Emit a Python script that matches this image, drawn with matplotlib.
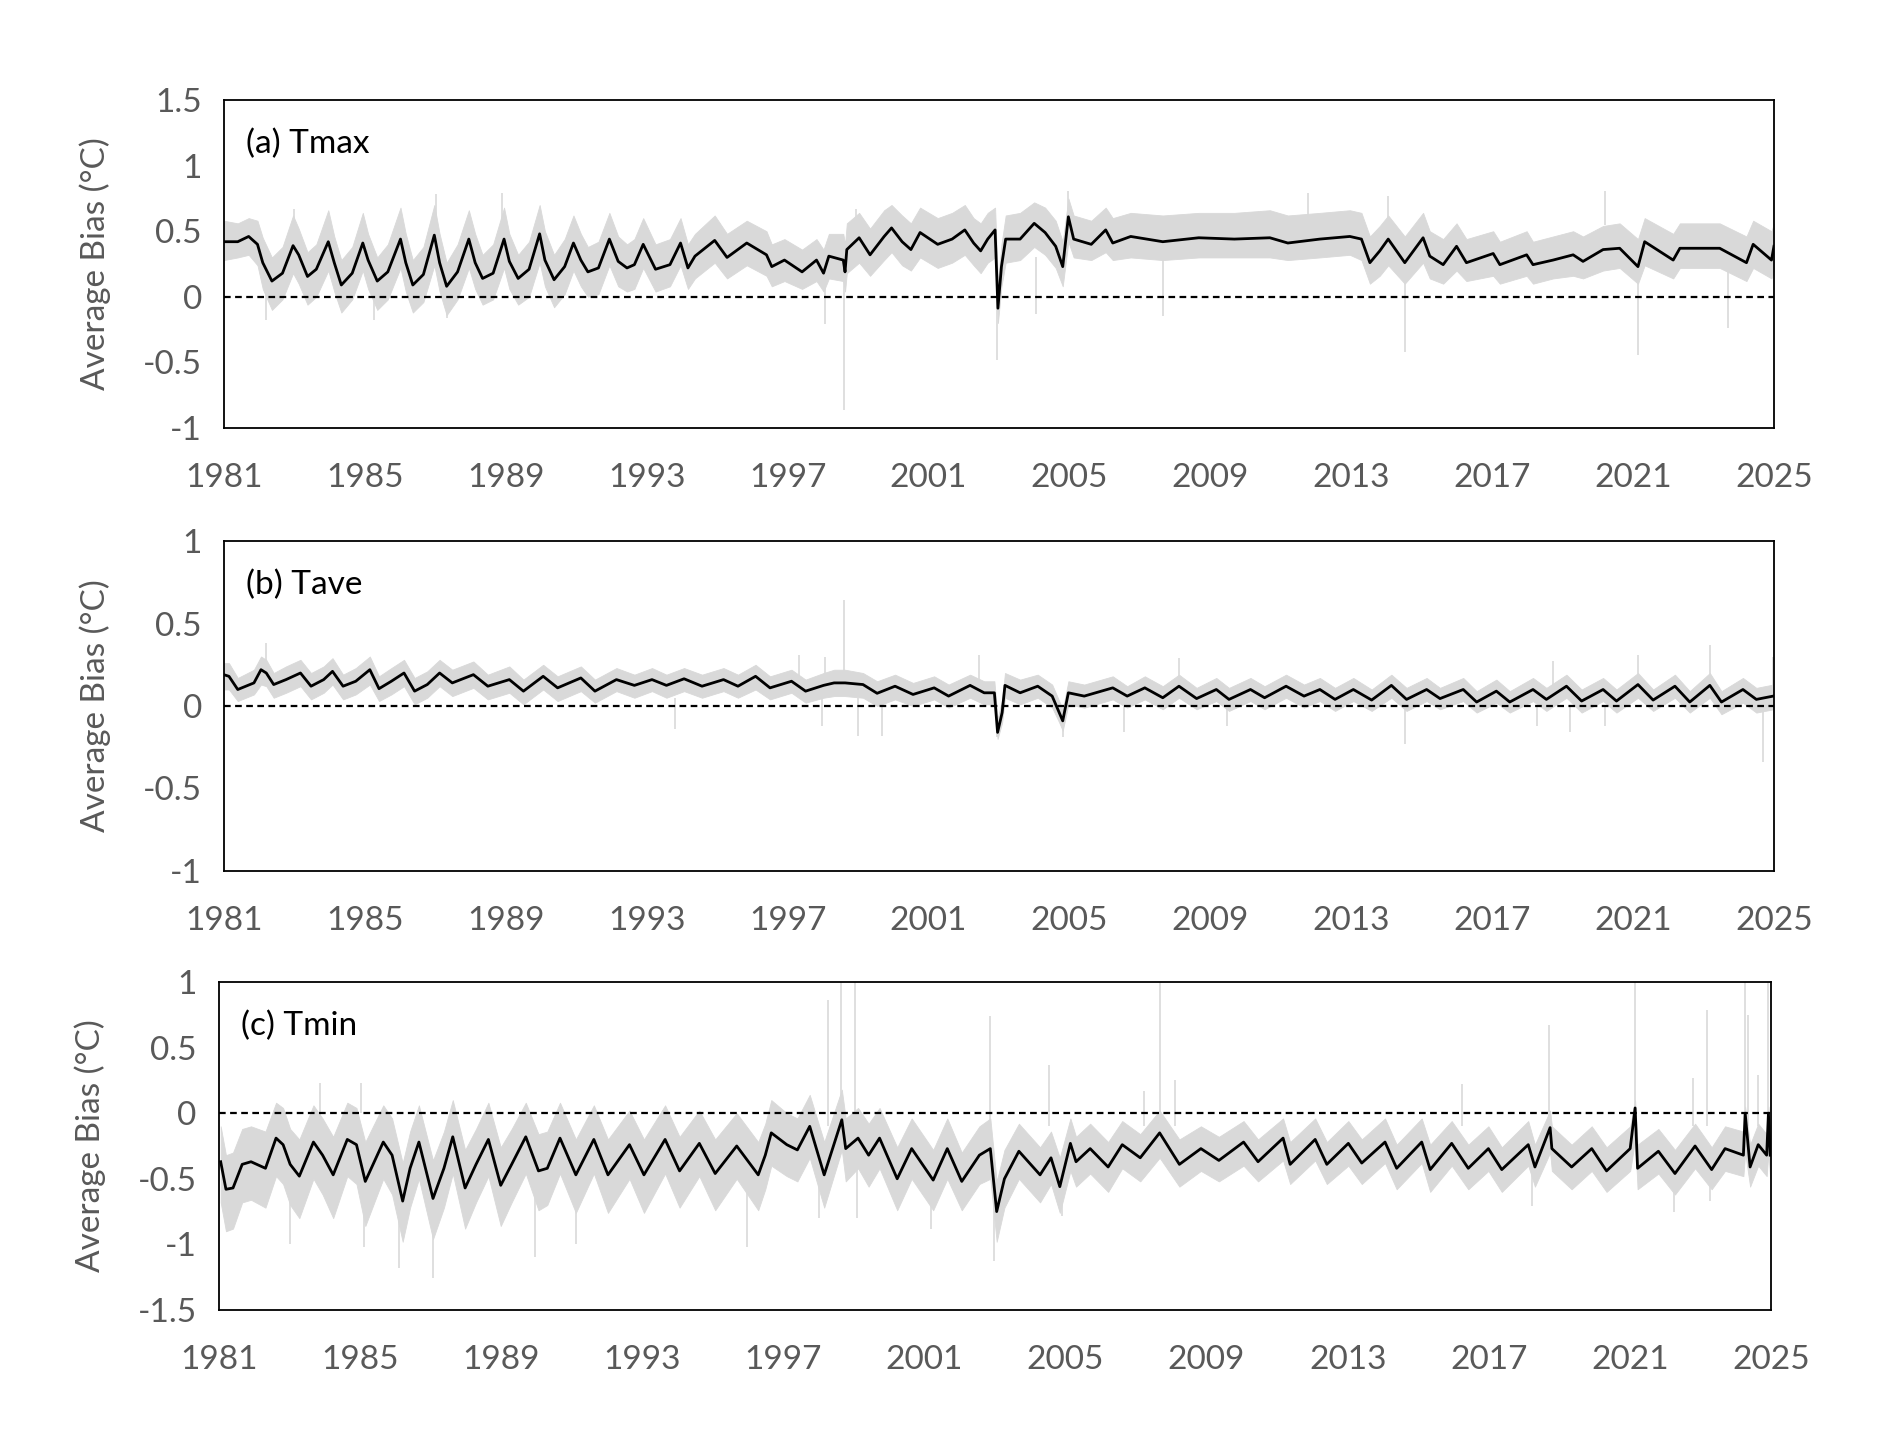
import matplotlib
matplotlib.use("Agg")
import matplotlib.pyplot as plt
import numpy as np

plt.rcParams['font.family'] = ['Lato', 'DejaVu Sans']

# ---- (a) Tmax : smoothed bias (black) and spread of daily values (grey) ----
a_year = [1981.00, 1981.39, 1981.70, 1981.95, 1982.10, 1982.36, 1982.66, 1982.96, 1983.12, 1983.37,
          1983.62, 1983.96, 1984.13, 1984.33, 1984.64, 1984.94, 1985.09, 1985.35, 1985.65, 1986.01,
          1986.16, 1986.36, 1986.66, 1986.97, 1987.12, 1987.32, 1987.63, 1987.95, 1988.13, 1988.34,
          1988.64, 1988.95, 1989.10, 1989.35, 1989.66, 1989.96, 1990.11, 1990.37, 1990.67, 1990.92,
          1991.13, 1991.33, 1991.63, 1991.94, 1992.19, 1992.44, 1992.65, 1992.90, 1993.25, 1993.66,
          1993.96, 1994.17, 1994.37, 1994.93, 1995.28, 1995.84, 1996.40, 1996.55, 1996.91, 1997.41,
          1997.82, 1998.02, 1998.17, 1998.58, 1998.63, 1998.68, 1999.03, 1999.34, 1999.74, 1999.95,
          2000.25, 2000.50, 2000.76, 2001.26, 2001.67, 2002.03, 2002.28, 2002.48, 2002.68, 2002.89,
          2002.97, 2003.07, 2003.19, 2003.60, 2004.00, 2004.31, 2004.61, 2004.81, 2004.97, 2005.12,
          2005.62, 2006.03, 2006.23, 2006.74, 2007.65, 2008.67, 2009.68, 2010.69, 2011.20, 2012.11,
          2012.96, 2013.29, 2013.53, 2013.81, 2014.05, 2014.52, 2015.04, 2015.23, 2015.61, 2015.99,
          2016.27, 2017.03, 2017.22, 2017.98, 2018.16, 2018.73, 2019.30, 2019.58, 2020.15, 2020.62,
          2021.14, 2021.33, 2022.14, 2022.33, 2023.46, 2024.22, 2024.41, 2024.93, 2025.00]
a_mean = [0.42, 0.42, 0.46, 0.40, 0.26, 0.12, 0.18, 0.39, 0.32, 0.155,
          0.21, 0.42, 0.26, 0.09, 0.18, 0.41, 0.28, 0.12, 0.19, 0.44,
          0.26, 0.09, 0.17, 0.47, 0.26, 0.08, 0.19, 0.44, 0.26, 0.14,
          0.18, 0.44, 0.27, 0.14, 0.21, 0.48, 0.28, 0.13, 0.23, 0.41,
          0.28, 0.19, 0.22, 0.44, 0.27, 0.22, 0.245, 0.40, 0.21, 0.245,
          0.41, 0.22, 0.31, 0.43, 0.30, 0.41, 0.32, 0.23, 0.28, 0.19,
          0.28, 0.18, 0.31, 0.28, 0.19, 0.36, 0.45, 0.32, 0.46, 0.525,
          0.42, 0.36, 0.49, 0.40, 0.44, 0.51, 0.41, 0.35, 0.44, 0.51,
          -0.087, 0.23, 0.44, 0.44, 0.56, 0.49, 0.385, 0.23, 0.61, 0.44,
          0.40, 0.51, 0.41, 0.46, 0.42, 0.45, 0.44, 0.45, 0.41, 0.44,
          0.46, 0.44, 0.26, 0.35, 0.44, 0.26, 0.45, 0.31, 0.245, 0.385,
          0.26, 0.33, 0.245, 0.32, 0.245, 0.28, 0.32, 0.27, 0.36, 0.37,
          0.23, 0.42, 0.28, 0.37, 0.37, 0.26, 0.40, 0.28, 0.385]
a_lo = [0.28, 0.30, 0.32, 0.24, 0.06, -0.10, -0.02, 0.18, 0.10, -0.06,
        0.00, 0.20, 0.04, -0.12, -0.02, 0.20, 0.06, -0.10, -0.02, 0.22,
        0.04, -0.12, -0.04, 0.24, 0.04, -0.14, -0.02, 0.22, 0.06, -0.06,
        -0.02, 0.22, 0.06, -0.06, 0.00, 0.26, 0.08, -0.08, 0.02, 0.20,
        0.08, 0.00, 0.02, 0.24, 0.08, 0.04, 0.06, 0.22, 0.04, 0.08,
        0.24, 0.06, 0.14, 0.26, 0.14, 0.24, 0.16, 0.08, 0.12, 0.06,
        0.12, 0.04, 0.14, 0.12, 0.04, 0.18, 0.26, 0.16, 0.28, 0.34,
        0.24, 0.20, 0.30, 0.22, 0.26, 0.32, 0.24, 0.18, 0.26, 0.30,
        -0.20, 0.08, 0.26, 0.28, 0.38, 0.32, 0.22, 0.08, 0.42, 0.30,
        0.28, 0.34, 0.28, 0.30, 0.28, 0.30, 0.30, 0.30, 0.28, 0.30,
        0.32, 0.28, 0.10, 0.16, 0.24, 0.10, 0.26, 0.14, 0.10, 0.20,
        0.12, 0.16, 0.10, 0.16, 0.10, 0.14, 0.16, 0.14, 0.20, 0.22,
        0.10, 0.24, 0.14, 0.22, 0.22, 0.12, 0.22, 0.14, 0.20]
a_hi = [0.58, 0.56, 0.60, 0.58, 0.45, 0.30, 0.38, 0.62, 0.52, 0.34,
        0.40, 0.66, 0.46, 0.28, 0.38, 0.64, 0.48, 0.30, 0.40, 0.68,
        0.48, 0.28, 0.38, 0.70, 0.48, 0.26, 0.40, 0.66, 0.48, 0.32,
        0.40, 0.68, 0.48, 0.32, 0.42, 0.70, 0.50, 0.32, 0.44, 0.62,
        0.48, 0.38, 0.42, 0.64, 0.46, 0.40, 0.44, 0.60, 0.40, 0.44,
        0.60, 0.40, 0.48, 0.62, 0.48, 0.58, 0.50, 0.40, 0.44, 0.36,
        0.44, 0.36, 0.48, 0.48, 0.40, 0.56, 0.64, 0.52, 0.66, 0.70,
        0.62, 0.56, 0.68, 0.60, 0.64, 0.70, 0.60, 0.56, 0.64, 0.68,
        0.10, 0.40, 0.62, 0.64, 0.72, 0.68, 0.58, 0.42, 0.75, 0.62,
        0.58, 0.68, 0.60, 0.64, 0.62, 0.64, 0.64, 0.66, 0.62, 0.64,
        0.66, 0.64, 0.46, 0.54, 0.62, 0.46, 0.64, 0.50, 0.44, 0.56,
        0.44, 0.50, 0.42, 0.50, 0.42, 0.46, 0.50, 0.46, 0.54, 0.56,
        0.44, 0.60, 0.48, 0.56, 0.56, 0.46, 0.58, 0.50, 0.56]
a_spike_x = [1982.20, 1985.25, 1987.32, 1983.00, 1987.02, 1988.89, 1998.07, 1998.61, 1998.93,
             2002.94, 2004.05, 2004.97, 2007.65, 2011.76, 2014.05, 2014.52, 2020.20, 2021.14,
             2023.70, 2024.99]
a_spike_lo = [-0.18, -0.18, -0.16, 0.50, 0.55, 0.55, -0.21, -0.86, 0.55,
              -0.48, -0.13, 0.60, -0.15, 0.60, 0.55, -0.42, 0.55, -0.44,
              -0.24, 0.45]
a_spike_hi = [0.05, 0.05, 0.05, 0.67, 0.78, 0.79, 0.10, 0.20, 0.67,
              0.05, 0.30, 0.81, 0.30, 0.79, 0.77, 0.15, 0.81, 0.15,
              0.20, 0.89]

# ---- (b) Tave ----
b_year = [1980.99, 1981.14, 1981.39, 1981.85, 1982.05, 1982.20, 1982.41, 1982.76, 1983.17, 1983.47,
          1983.83, 1984.08, 1984.38, 1984.74, 1985.14, 1985.40, 1985.75, 1986.11, 1986.41, 1986.77,
          1987.12, 1987.48, 1988.08, 1988.49, 1989.10, 1989.50, 1990.06, 1990.47, 1991.13, 1991.53,
          1992.14, 1992.65, 1993.15, 1993.56, 1994.06, 1994.57, 1995.18, 1995.59, 1996.09, 1996.50,
          1997.11, 1997.51, 1998.02, 1998.32, 1998.63, 1999.14, 1999.54, 2000.05, 2000.56, 2001.16,
          2001.57, 2002.18, 2002.58, 2002.87, 2002.96, 2003.09, 2003.17, 2003.60, 2004.10, 2004.51,
          2004.71, 2004.81, 2004.97, 2005.42, 2006.23, 2006.64, 2007.14, 2007.65, 2008.11, 2008.61,
          2009.17, 2009.53, 2010.14, 2010.54, 2011.15, 2011.66, 2012.11, 2012.54, 2013.06, 2013.58,
          2014.14, 2014.57, 2015.14, 2015.52, 2016.18, 2016.56, 2017.12, 2017.50, 2018.16, 2018.54,
          2019.11, 2019.54, 2020.15, 2020.53, 2021.14, 2021.57, 2022.19, 2022.61, 2023.18, 2023.51,
          2024.12, 2024.50, 2024.98]
b_mean = [0.19, 0.18, 0.10, 0.14, 0.22, 0.20, 0.13, 0.16, 0.20, 0.12,
          0.16, 0.21, 0.12, 0.15, 0.22, 0.105, 0.15, 0.20, 0.09, 0.13,
          0.20, 0.14, 0.19, 0.12, 0.16, 0.09, 0.18, 0.11, 0.17, 0.09,
          0.16, 0.125, 0.16, 0.125, 0.165, 0.12, 0.16, 0.12, 0.18, 0.11,
          0.15, 0.09, 0.125, 0.14, 0.14, 0.13, 0.077, 0.12, 0.07, 0.11,
          0.06, 0.125, 0.08, 0.08, -0.16, -0.04, 0.125, 0.08, 0.12, 0.06,
          -0.04, -0.09, 0.08, 0.06, 0.11, 0.06, 0.11, 0.05, 0.12, 0.045,
          0.10, 0.04, 0.10, 0.05, 0.12, 0.06, 0.10, 0.04, 0.10, 0.036,
          0.125, 0.04, 0.10, 0.045, 0.10, 0.024, 0.09, 0.024, 0.10, 0.04,
          0.12, 0.03, 0.10, 0.03, 0.13, 0.036, 0.12, 0.024, 0.125, 0.024,
          0.10, 0.04, 0.06]
b_lo = [0.10, 0.10, 0.03, 0.07, 0.13, 0.12, 0.05, 0.08, 0.12, 0.04,
        0.08, 0.13, 0.04, 0.07, 0.13, 0.03, 0.07, 0.12, 0.01, 0.05,
        0.12, 0.06, 0.11, 0.04, 0.08, 0.01, 0.10, 0.03, 0.09, 0.02,
        0.09, 0.05, 0.09, 0.05, 0.09, 0.05, 0.09, 0.05, 0.10, 0.04,
        0.08, 0.02, 0.05, 0.06, 0.06, 0.05, 0.00, 0.04, 0.00, 0.04,
        -0.01, 0.05, 0.01, 0.01, -0.20, -0.10, 0.05, 0.01, 0.05, -0.01,
        -0.10, -0.15, 0.01, -0.01, 0.04, -0.01, 0.04, -0.02, 0.05, -0.02,
        0.03, -0.03, 0.03, -0.02, 0.05, -0.01, 0.03, -0.03, 0.03, -0.03,
        0.05, -0.03, 0.03, -0.02, 0.03, -0.04, 0.02, -0.04, 0.03, -0.03,
        0.05, -0.04, 0.03, -0.04, 0.05, -0.03, 0.05, -0.04, 0.05, -0.05,
        0.02, -0.04, -0.02]
b_hi = [0.26, 0.26, 0.17, 0.22, 0.30, 0.28, 0.20, 0.24, 0.28, 0.20,
        0.24, 0.29, 0.19, 0.23, 0.30, 0.18, 0.23, 0.28, 0.17, 0.21,
        0.28, 0.22, 0.27, 0.19, 0.24, 0.16, 0.25, 0.18, 0.24, 0.16,
        0.23, 0.19, 0.23, 0.19, 0.23, 0.19, 0.23, 0.19, 0.25, 0.18,
        0.22, 0.16, 0.20, 0.22, 0.22, 0.20, 0.15, 0.19, 0.14, 0.18,
        0.13, 0.19, 0.15, 0.15, -0.08, 0.04, 0.20, 0.16, 0.19, 0.13,
        0.03, -0.02, 0.15, 0.13, 0.18, 0.12, 0.18, 0.12, 0.19, 0.11,
        0.17, 0.11, 0.17, 0.12, 0.19, 0.13, 0.17, 0.11, 0.17, 0.10,
        0.19, 0.11, 0.17, 0.11, 0.17, 0.09, 0.16, 0.09, 0.17, 0.11,
        0.19, 0.10, 0.17, 0.10, 0.20, 0.10, 0.19, 0.09, 0.20, 0.09,
        0.17, 0.11, 0.13]
b_spike_x = [1982.20, 1993.81, 1997.31, 1997.97, 1998.07, 1998.61, 1999.01, 1999.69, 2002.43,
             2002.94, 2004.81, 2006.54, 2008.11, 2009.48, 2014.52, 2018.26, 2018.73, 2019.21,
             2020.20, 2021.14, 2023.18, 2024.69, 2024.98]
b_spike_lo = [0.20, -0.14, 0.15, -0.12, 0.15, 0.15, -0.18, -0.18, 0.15,
              -0.19, -0.19, -0.16, 0.15, -0.12, -0.23, -0.12, 0.12, -0.16,
              -0.12, 0.15, 0.15, -0.34, 0.10]
b_spike_hi = [0.38, 0.05, 0.31, 0.05, 0.30, 0.64, 0.05, 0.05, 0.31,
              -0.05, -0.05, 0.00, 0.29, 0.00, 0.00, 0.00, 0.27, 0.00,
              0.00, 0.31, 0.37, 0.00, 0.30]

# ---- (c) Tmin ----
c_year = [1981.05, 1981.20, 1981.40, 1981.66, 1981.91, 1982.32, 1982.62, 1982.82, 1983.02, 1983.28,
          1983.68, 1983.94, 1984.24, 1984.64, 1984.90, 1985.15, 1985.66, 1985.91, 1986.21, 1986.42,
          1986.67, 1987.07, 1987.38, 1987.63, 1987.98, 1988.29, 1988.64, 1988.99, 1989.30, 1989.70,
          1990.06, 1990.31, 1990.67, 1991.12, 1991.63, 1992.03, 1992.64, 1993.05, 1993.65, 1994.06,
          1994.62, 1995.07, 1995.68, 1996.29, 1996.49, 1996.66, 1997.10, 1997.40, 1997.75, 1998.16,
          1998.66, 1998.77, 1999.12, 1999.42, 1999.73, 2000.23, 2000.64, 2001.25, 2001.65, 2002.06,
          2002.56, 2002.87, 2003.05, 2003.27, 2003.68, 2004.28, 2004.59, 2004.84, 2005.14, 2005.30,
          2005.70, 2006.21, 2006.61, 2007.12, 2007.67, 2008.23, 2008.84, 2009.35, 2010.05, 2010.46,
          2011.17, 2011.37, 2012.08, 2012.41, 2013.02, 2013.40, 2014.06, 2014.39, 2015.10, 2015.34,
          2015.95, 2016.42, 2016.99, 2017.37, 2018.12, 2018.31, 2018.74, 2018.79, 2019.35, 2019.92,
          2020.34, 2021.01, 2021.15, 2021.22, 2021.81, 2022.28, 2022.85, 2023.32, 2023.70, 2024.22,
          2024.27, 2024.41, 2024.64, 2024.88, 2024.93, 2024.98]
c_mean = [-0.37, -0.58, -0.57, -0.39, -0.37, -0.42, -0.19, -0.24, -0.39, -0.48,
          -0.22, -0.32, -0.47, -0.20, -0.24, -0.52, -0.22, -0.32, -0.67, -0.42,
          -0.22, -0.65, -0.42, -0.18, -0.57, -0.39, -0.20, -0.55, -0.39, -0.18,
          -0.44, -0.42, -0.19, -0.47, -0.20, -0.47, -0.24, -0.47, -0.20, -0.44,
          -0.23, -0.46, -0.25, -0.47, -0.32, -0.15, -0.24, -0.28, -0.10, -0.47,
          -0.05, -0.27, -0.19, -0.32, -0.19, -0.50, -0.27, -0.51, -0.27, -0.52,
          -0.32, -0.27, -0.75, -0.50, -0.29, -0.47, -0.34, -0.56, -0.23, -0.37,
          -0.27, -0.41, -0.24, -0.34, -0.15, -0.39, -0.27, -0.36, -0.22, -0.37,
          -0.19, -0.39, -0.20, -0.39, -0.23, -0.38, -0.22, -0.42, -0.22, -0.43,
          -0.23, -0.42, -0.27, -0.43, -0.24, -0.41, -0.11, -0.27, -0.41, -0.27,
          -0.44, -0.27, 0.04, -0.42, -0.29, -0.46, -0.25, -0.43, -0.27, -0.32,
          0.00, -0.41, -0.24, -0.32, 0.00, -0.32]
c_lo = [-0.68, -0.90, -0.88, -0.68, -0.66, -0.72, -0.48, -0.54, -0.70, -0.80,
        -0.50, -0.62, -0.80, -0.48, -0.54, -0.86, -0.50, -0.62, -0.98, -0.72,
        -0.50, -0.96, -0.72, -0.46, -0.88, -0.68, -0.48, -0.86, -0.68, -0.46,
        -0.74, -0.70, -0.46, -0.76, -0.46, -0.76, -0.50, -0.76, -0.46, -0.72,
        -0.48, -0.74, -0.50, -0.74, -0.58, -0.40, -0.48, -0.52, -0.34, -0.72,
        -0.28, -0.52, -0.42, -0.56, -0.42, -0.74, -0.50, -0.74, -0.50, -0.74,
        -0.54, -0.50, -0.98, -0.72, -0.50, -0.68, -0.54, -0.76, -0.44, -0.56,
        -0.46, -0.60, -0.42, -0.52, -0.34, -0.56, -0.44, -0.52, -0.40, -0.52,
        -0.36, -0.54, -0.36, -0.54, -0.40, -0.54, -0.38, -0.58, -0.38, -0.60,
        -0.40, -0.58, -0.44, -0.60, -0.40, -0.56, -0.30, -0.44, -0.58, -0.44,
        -0.60, -0.44, -0.20, -0.58, -0.46, -0.62, -0.42, -0.58, -0.44, -0.48,
        -0.30, -0.56, -0.40, -0.48, -0.30, -0.50]
c_hi = [-0.10, -0.32, -0.30, -0.12, -0.10, -0.14, 0.08, 0.04, -0.12, -0.20,
        0.06, -0.04, -0.18, 0.08, 0.04, -0.22, 0.06, -0.04, -0.38, -0.14,
        0.06, -0.36, -0.14, 0.10, -0.28, -0.12, 0.08, -0.26, -0.12, 0.08,
        -0.16, -0.14, 0.08, -0.20, 0.06, -0.20, 0.02, -0.20, 0.06, -0.18,
        0.02, -0.20, 0.00, -0.22, -0.08, 0.10, 0.00, -0.04, 0.14, -0.22,
        0.18, -0.04, 0.04, -0.08, 0.04, -0.26, -0.04, -0.28, -0.04, -0.30,
        -0.10, -0.04, -0.52, -0.28, -0.08, -0.26, -0.14, -0.34, -0.04, -0.18,
        -0.08, -0.22, -0.06, -0.16, 0.02, -0.20, -0.10, -0.18, -0.06, -0.20,
        -0.04, -0.22, -0.04, -0.22, -0.06, -0.20, -0.04, -0.24, -0.04, -0.24,
        -0.06, -0.24, -0.10, -0.26, -0.06, -0.24, 0.02, -0.10, -0.24, -0.10,
        -0.26, -0.10, 0.10, -0.24, -0.12, -0.28, -0.08, -0.26, -0.10, -0.14,
        0.05, -0.24, -0.08, -0.16, 0.05, -0.14]
c_spike_x = [1983.02, 1983.88, 1985.03, 1985.10, 1986.11, 1987.07, 1989.96, 1991.12, 1995.98,
             1998.00, 1998.26, 1998.63, 1999.04, 1999.10, 2001.20, 2002.85, 2002.97, 2004.52,
             2004.89, 2007.22, 2007.67, 2008.11, 2016.23, 2018.22, 2018.72, 2021.15, 2022.26,
             2022.80, 2023.18, 2023.27, 2024.27, 2024.34, 2024.63, 2024.93]
c_spike_lo = [-1.00, -0.05, 0.00, -1.02, -1.18, -1.26, -1.10, -1.00, -1.02,
              -0.80, -0.10, -0.10, -0.10, -0.80, -0.88, -0.10, -1.13, -0.10,
              -0.78, -0.10, -0.10, -0.10, -0.10, -0.71, -0.10, -0.10, -0.75,
              -0.10, -0.10, -0.67, -0.10, -0.10, -0.10, -0.10]
c_spike_hi = [-0.50, 0.23, 0.23, -0.50, -0.60, -0.60, -0.50, -0.50, -0.50,
              -0.40, 0.86, 1.00, 1.00, -0.40, -0.40, 0.74, -0.60, 0.37,
              -0.40, 0.17, 1.00, 0.25, 0.22, -0.40, 0.67, 1.00, -0.40,
              0.27, 0.79, -0.40, 1.00, 0.75, 0.29, 1.00]

year_ticks = list(range(1981, 2026, 4))

panels = [
    ("(a) Tmax", a_year, a_mean, a_lo, a_hi, a_spike_x, a_spike_lo, a_spike_hi,
     (-1, 1.5), [-1, -0.5, 0, 0.5, 1, 1.5], [0.1184, 0.7005, 0.8192, 0.2295]),
    ("(b) Tave", b_year, b_mean, b_lo, b_hi, b_spike_x, b_spike_lo, b_spike_hi,
     (-1, 1), [-1, -0.5, 0, 0.5, 1], [0.1184, 0.3905, 0.8192, 0.2309]),
    ("(c) Tmin", c_year, c_mean, c_lo, c_hi, c_spike_x, c_spike_lo, c_spike_hi,
     (-1.5, 1), [-1.5, -1, -0.5, 0, 0.5, 1], [0.1157, 0.0833, 0.8203, 0.2295]),
]

fig = plt.figure(figsize=(18.92, 14.29), dpi=100)
grey_txt = '#595959'
fs = 24

def fmt(v):
    if v == int(v):
        return str(int(v))
    return str(v)

for label, yr, mean, lo, hi, sx, slo, shi, ylim, yt, pos in panels:
    ax = fig.add_axes(pos)
    ax.fill_between(yr, lo, hi, color='#d9d9d9', linewidth=0.6, edgecolor='#d9d9d9', zorder=1)
    ax.vlines(sx, slo, shi, color='#d9d9d9', linewidth=1.2, zorder=1)
    ax.axhline(0, color='black', linestyle=(0, (3, 2)), linewidth=1.6, zorder=2)
    ax.plot(yr, mean, color='black', linewidth=2.0, zorder=3)
    ax.set_xlim(1981, 2025)
    ax.set_ylim(*ylim)
    ax.set_xticks(year_ticks)
    ax.set_xticklabels([str(t) for t in year_ticks])
    ax.set_yticks(yt)
    ax.set_yticklabels([fmt(v) for v in yt])
    ax.tick_params(axis='both', length=0, labelsize=fs, colors=grey_txt)
    ax.tick_params(axis='x', pad=25)
    ax.tick_params(axis='y', pad=16)
    for sp in ax.spines.values():
        sp.set_color('black')
        sp.set_linewidth(1.3)
    ax.set_ylabel('Average Bias (°C)', fontsize=fs, color=grey_txt)
    ax.yaxis.set_label_coords(-0.073, 0.5)
    ax.text(0.014, 0.866, label, transform=ax.transAxes, fontsize=fs,
            color='black', va='center', ha='left')

fig.savefig('out.png', dpi=100)
